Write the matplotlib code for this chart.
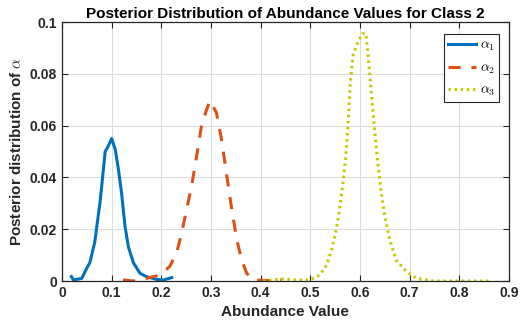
import matplotlib
matplotlib.use("Agg")
import matplotlib.pyplot as plt

plt.rcParams['font.family'] = ['Liberation Sans', 'DejaVu Sans']
plt.rcParams['mathtext.fontset'] = 'cm'

x1 = [0.019, 0.023, 0.040, 0.050, 0.056, 0.066, 0.077, 0.087, 0.093, 0.100, 0.107, 0.113,
      0.120, 0.127, 0.134, 0.144, 0.157, 0.170, 0.191, 0.204, 0.221]
y1 = [0.0017, 0.0004, 0.001, 0.005, 0.007, 0.015, 0.031, 0.050, 0.052, 0.055, 0.051, 0.044,
      0.034, 0.021, 0.013, 0.007, 0.003, 0.0017, 0.0006, 0.0004, 0.0013]

x2 = [0.123, 0.144, 0.170, 0.197, 0.217, 0.231, 0.241, 0.251, 0.261, 0.271, 0.281, 0.291,
      0.298, 0.311, 0.321, 0.332, 0.342, 0.352, 0.362, 0.372, 0.385, 0.413, 0.442]
y2 = [0.0004, 0.0, 0.001, 0.0023, 0.0056, 0.011, 0.0185, 0.0276, 0.0366, 0.048, 0.060, 0.066,
      0.0696, 0.065, 0.055, 0.0405, 0.0276, 0.016, 0.008, 0.003, 0.0004, 0.0002, 0.0004]

x3 = [0.405, 0.442, 0.472, 0.499, 0.519, 0.533, 0.543, 0.551, 0.558, 0.565, 0.571, 0.576,
      0.580, 0.586, 0.596, 0.605, 0.612, 0.617, 0.622, 0.626, 0.630, 0.636, 0.643, 0.650,
      0.660, 0.673, 0.694, 0.714, 0.747, 0.800, 0.864]
y3 = [0.0, 0.0008, 0.0004, 0.0004, 0.0023, 0.0062, 0.012, 0.0185, 0.0263, 0.0366, 0.047, 0.060,
      0.075, 0.087, 0.0924, 0.0955, 0.0955, 0.0860, 0.075, 0.066, 0.0573, 0.0457, 0.034, 0.025,
      0.016, 0.008, 0.0036, 0.001, 0.0, 0.0, 0.0]

labels = [r'$\alpha_1$', r'$\alpha_2$', r'$\alpha_3$']
xticks = [0, 0.1, 0.2, 0.3, 0.4, 0.5, 0.6, 0.7, 0.8, 0.9]
xticklabels = ['0', '0.1', '0.2', '0.3', '0.4', '0.5', '0.6', '0.7', '0.8', '0.9']
yticks = [0, 0.02, 0.04, 0.06, 0.08, 0.1]
yticklabels = ['0', '0.02', '0.04', '0.06', '0.08', '0.1']

fig = plt.figure(figsize=(5.23, 3.24), dpi=100)
ax = fig.add_axes([0.1185, 0.1327, 0.8545, 0.7993])

ax.plot(x1, y1, color='#0072BD', lw=2.2, ls='-', label=labels[0])
ax.plot(x2, y2, color='#D95319', lw=2.2, ls=(0, (4, 3.5)), label=labels[1])
ax.plot(x3, y3, color='#C8C800', lw=2.2, ls=(0, (0.8, 1.2)), label=labels[2])

ax.set_xlim(0, 0.9)
ax.set_ylim(0, 0.1)
ax.set_xticks(xticks)
ax.set_xticklabels(xticklabels, fontweight='bold', fontsize=10)
ax.set_yticks(yticks)
ax.set_yticklabels(yticklabels, fontweight='bold', fontsize=10)
ax.tick_params(direction='in', top=True, right=True, length=4, width=0.8, colors='#262626')
ax.grid(True, color='#dcdcdc', lw=0.8)
ax.set_axisbelow(True)
for s in ax.spines.values():
    s.set_color('#262626')
    s.set_linewidth(0.9)

ax.set_xlabel('Abundance Value', fontweight='bold', fontsize=11, color='#262626')
ax.set_ylabel(r'Posterior distribution of $\alpha$', fontweight='bold', fontsize=11, color='#262626')
ax.set_title('Posterior Distribution of Abundance Values for Class 2', fontweight='bold',
             fontsize=11, pad=3)

leg = ax.legend(loc='upper right', bbox_to_anchor=(0.978, 0.954), fancybox=False,
                edgecolor='#262626', framealpha=1, fontsize=10, handlelength=2.0,
                handletextpad=0.25, borderpad=0.3, labelspacing=0.5, borderaxespad=0)
leg.get_frame().set_linewidth(0.8)

fig.savefig('out.png', dpi=100)
